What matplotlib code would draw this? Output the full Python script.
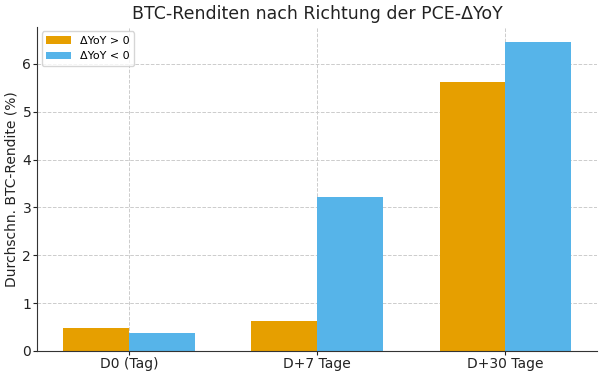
import numpy as np
import matplotlib.pyplot as plt

# Durchschnittliche BTC-Renditen je Horizont
horizonte = ["D0 (Tag)", "D+7 Tage", "D+30 Tage"]
rendite_pos = [0.49, 0.62, 5.63]   # ΔYoY > 0
rendite_neg = [0.38, 3.22, 6.45]   # ΔYoY < 0

x = np.arange(len(horizonte))
width = 0.35

fig, ax = plt.subplots(figsize=(6.04, 3.75), dpi=100)
ax.bar(x - width / 2, rendite_pos, width, color="#E69F00", label="ΔYoY > 0", zorder=2)
ax.bar(x + width / 2, rendite_neg, width, color="#56B4E9", label="ΔYoY < 0", zorder=2)

ax.set_xticks(x)
ax.set_xticklabels(horizonte)
ax.tick_params(labelsize=10, length=3, width=0.8, pad=1.5, colors="#222222")
ax.set_ylabel("Durchschn. BTC-Rendite (%)", fontsize=10, labelpad=3, color="#222222")
ax.set_title("BTC-Renditen nach Richtung der PCE-ΔYoY", fontsize=12.5, color="#222222", pad=6)

ax.grid(True, linestyle="--", color="#cccccc", linewidth=0.7, zorder=0)
ax.spines["top"].set_visible(False)
ax.spines["right"].set_visible(False)
for s in ("left", "bottom"):
    ax.spines[s].set_color("#333333")
ax.legend(loc="upper left", fontsize=8, handlelength=2.2, borderaxespad=0.4)

fig.subplots_adjust(left=0.062, right=0.988, top=0.928, bottom=0.064)
fig.savefig("out.png", dpi=100)
